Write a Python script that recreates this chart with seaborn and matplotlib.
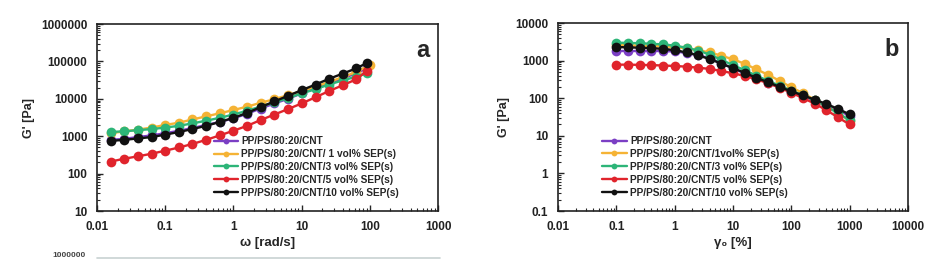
import numpy as np
import pandas as pd
import matplotlib
matplotlib.use("Agg")
import matplotlib.pyplot as plt
from matplotlib.lines import Line2D
import seaborn as sns

sns.set_style("ticks")
plt.rcParams['font.family'] = ['Liberation Sans', 'DejaVu Sans']

# ---------- data ----------
labels_a = ["PP/PS/80:20/CNT", "PP/PS/80:20/CNT/ 1 vol% SEP(s)", "PP/PS/80:20/CNT/3 vol% SEP(s)",
            "PP/PS/80:20/CNT/5 vol% SEP(s)", "PP/PS/80:20/CNT/10 vol% SEP(s)"]
labels_b = ["PP/PS/80:20/CNT", "PP/PS/80:20/CNT/1vol% SEP(s)", "PP/PS/80:20/CNT/3 vol% SEP(s)",
            "PP/PS/80:20/CNT/5 vol% SEP(s)", "PP/PS/80:20/CNT/10 vol% SEP(s)"]
colors = ["#7B3FC4", "#F5B335", "#2DB578", "#E0242C", "#111111"]

omega = [0.016, 0.025, 0.04, 0.063, 0.1, 0.16, 0.25, 0.4, 0.63, 1.0,
         1.6, 2.5, 4.0, 6.3, 10, 16, 25, 40, 63, 90]
omega_orange = [0.016, 0.025, 0.04, 0.063, 0.1, 0.16, 0.25, 0.4, 0.63, 1.0,
                1.6, 2.5, 4.0, 6.3, 10, 16, 25, 40, 63, 100]
g_purple_a = [800, 850, 950, 1050, 1200, 1400, 1650, 2000, 2400, 3000,
              4000, 5500, 7500, 10000, 14000, 19000, 26000, 35000, 48000, 65000]
g_orange_a = [1200, 1350, 1500, 1700, 2000, 2300, 2800, 3400, 4100, 5000,
              6200, 7800, 9800, 12500, 16000, 21000, 28000, 38000, 52000, 80000]
g_green_a = [1300, 1350, 1450, 1550, 1700, 1900, 2200, 2600, 3100, 3800,
             4800, 6200, 8000, 10500, 14000, 18000, 24000, 31000, 39000, 48000]
g_red_a = [210, 250, 290, 340, 410, 500, 620, 800, 1050, 1400,
           1900, 2700, 3800, 5300, 7500, 11000, 16000, 23000, 33000, 55000]
g_black_a = [750, 800, 870, 950, 1100, 1300, 1550, 1900, 2400, 3100,
             4200, 6000, 8500, 12000, 17000, 24000, 34000, 47000, 65000, 90000]

strain = [0.1, 0.16, 0.25, 0.4, 0.63, 1.0, 1.6, 2.5, 4.0, 6.3, 10,
          16, 25, 40, 63, 100, 160, 250, 400, 630, 1000]
g_purple_b = [1800, 1800, 1800, 1800, 1800, 1750, 1600, 1400, 1150, 850, 620,
              460, 350, 260, 195, 150, 112, 88, 65, 48, 34]
g_orange_b = [2600, 2550, 2500, 2450, 2400, 2300, 2100, 1900, 1650, 1350, 1080,
              820, 590, 420, 290, 195, 135, 92, 62, 40, 25]
g_green_b = [3000, 2950, 2900, 2800, 2700, 2500, 2200, 1850, 1450, 1050, 760,
             550, 400, 290, 215, 160, 118, 88, 60, 40, 26]
g_red_b = [780, 780, 770, 760, 740, 720, 690, 650, 600, 530, 460,
           390, 320, 250, 190, 140, 100, 72, 48, 31, 20]
g_black_b = [2300, 2250, 2200, 2150, 2050, 1900, 1650, 1380, 1100, 830, 630,
             470, 350, 265, 200, 152, 118, 92, 70, 52, 37]

ticks_a_x = [0.01, 0.1, 1, 10, 100, 1000]
ticks_a_y = [10, 100, 1000, 10000, 100000, 1000000]
ticks_b_x = [0.01, 0.1, 1, 10, 100, 1000, 10000]
ticks_b_y = [0.1, 1, 10, 100, 1000, 10000]

def long_df(xs_list, ys_list, labels):
    frames = []
    for xs, ys, lab in zip(xs_list, ys_list, labels):
        frames.append(pd.DataFrame({"x": xs, "y": ys, "series": lab}))
    return pd.concat(frames, ignore_index=True)

df_a = long_df([omega, omega_orange, omega, omega, omega],
               [g_purple_a, g_orange_a, g_green_a, g_red_a, g_black_a], labels_a)
df_b = long_df([strain] * 5, [g_purple_b, g_orange_b, g_green_b, g_red_b, g_black_b], labels_b)

fig = plt.figure(figsize=(9.4, 2.6), dpi=100)
ax1 = fig.add_axes([97 / 940, 1 - 211 / 260, 341 / 940, 187 / 260])
ax2 = fig.add_axes([558 / 940, 1 - 211 / 260, 350 / 940, 188 / 260])

def draw(ax, df, labels, xlim, ylim, xt, yt, xlabel, letter, legloc):
    sns.lineplot(data=df, x="x", y="y", hue="series", hue_order=labels,
                 palette=dict(zip(labels, colors)), marker="o", markersize=7,
                 markeredgewidth=0, linewidth=1.7, sort=False, estimator=None,
                 ax=ax, legend=True)
    ax.set_xscale("log")
    ax.set_yscale("log")
    ax.set_xlim(*xlim)
    ax.set_ylim(*ylim)
    ax.set_xticks(xt)
    ax.set_yticks(yt)
    ax.set_xticklabels([("%g" % v) for v in xt])
    ax.set_yticklabels([("%g" % v) if v < 1e5 else str(int(v)) for v in yt])
    ax.tick_params(axis="x", which="major", direction="in", length=4, width=1,
                   labelsize=8.5, pad=7)
    ax.tick_params(axis="y", which="major", direction="in", length=4, width=1,
                   labelsize=8.5, pad=7)
    ax.tick_params(axis="both", which="minor", direction="in", length=2, width=0.8)
    for lab in ax.get_xticklabels() + ax.get_yticklabels():
        lab.set_fontweight("bold")
        lab.set_color("#222222")
    for sp in ax.spines.values():
        sp.set_linewidth(1.2)
        sp.set_color("#222222")
    ax.set_xlabel(xlabel, fontsize=9.5, fontweight="bold", labelpad=3)
    ax.set_ylabel("G' [Pa]", fontsize=9, fontweight="bold", labelpad=4)
    ax.text(0.975, 0.92, letter, transform=ax.transAxes, ha="right", va="top",
            fontsize=17, fontweight="bold")
    leg = ax.legend(loc="lower left", bbox_to_anchor=legloc, frameon=False,
                    fontsize=7.3, handlelength=2.4, handletextpad=0.35,
                    labelspacing=0.28, borderaxespad=0, markerscale=0.6)
    for t in leg.get_texts():
        t.set_fontweight("bold")
    ax.grid(False)

draw(ax1, df_a, labels_a, (0.01, 1000), (10, 1e6), ticks_a_x, ticks_a_y,
     "ω [rad/s]", "a", (0.33, 0.05))
draw(ax2, df_b, labels_b, (0.01, 10000), (0.1, 10000), ticks_b_x, ticks_b_y,
     "γ₀ [%]", "b", (0.115, 0.05))

# edge of the next figure panel visible at the bottom
fig.add_artist(Line2D([97 / 940, 440 / 940], [2 / 260, 2 / 260], transform=fig.transFigure,
                      color="#c8d2d2", linewidth=1.2))
fig.text(86 / 940, 1 / 260, "1000000", ha="right", va="bottom", fontsize=6,
         fontweight="bold", color="#444444")

fig.savefig("out.png", dpi=100, facecolor="white")
